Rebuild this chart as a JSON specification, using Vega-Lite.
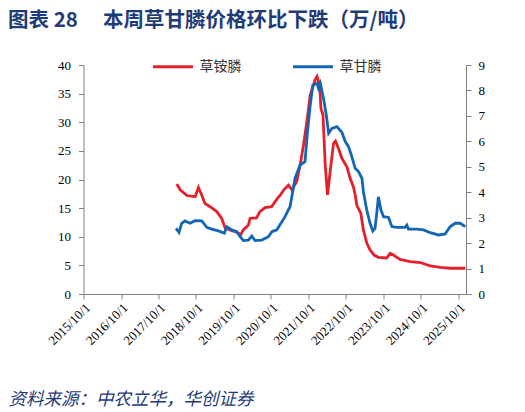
{
  "$schema": "https://vega.github.io/schema/vega-lite/v6.json",
  "width": 382.5,
  "height": 229,
  "autosize": "none",
  "padding": {"left": 83.5, "top": 65, "right": 59, "bottom": 118},
  "background": "white",
  "config": {
    "view": {"stroke": null},
    "axis": {
      "grid": false,
      "domainColor": "#808080",
      "tickColor": "#808080",
      "tickSize": 5,
      "labelFont": "Liberation Serif",
      "labelFontSize": 13,
      "labelColor": "#000000"
    },
    "legend": {
      "orient": "none",
      "legendX": 68,
      "legendY": -20,
      "direction": "horizontal",
      "symbolType": "stroke",
      "symbolSize": 1600,
      "symbolStrokeWidth": 3,
      "labelFont": "Noto Sans CJK SC",
      "labelFontSize": 14,
      "labelColor": "#333333",
      "labelOffset": 5,
      "columnPadding": 45,
      "padding": 0
    }
  },
  "title": {
    "text": "图表\u00a028\u3000\u00a0本周草甘膦价格环比下跌（万/吨）",
    "anchor": "start",
    "frame": "group",
    "dx": -75.5,
    "offset": 14,
    "color": "#1F3C78",
    "font": "Noto Sans CJK SC",
    "fontSize": 20.5,
    "fontWeight": "bold"
  },
  "data": {
    "values": [
      {"date": "2018/03/28", "series": "草铵膦", "value": 19.2},
      {"date": "2018/04/30", "series": "草铵膦", "value": 18.2},
      {"date": "2018/07/05", "series": "草铵膦", "value": 17.2},
      {"date": "2018/09/23", "series": "草铵膦", "value": 17.0},
      {"date": "2018/10/25", "series": "草铵膦", "value": 18.6},
      {"date": "2018/11/26", "series": "草铵膦", "value": 17.3},
      {"date": "2018/12/28", "series": "草铵膦", "value": 15.8},
      {"date": "2019/02/16", "series": "草铵膦", "value": 15.25},
      {"date": "2019/04/22", "series": "草铵膦", "value": 14.4},
      {"date": "2019/06/09", "series": "草铵膦", "value": 13.2},
      {"date": "2019/07/13", "series": "草铵膦", "value": 11.5},
      {"date": "2019/08/27", "series": "草铵膦", "value": 11.2},
      {"date": "2019/10/31", "series": "草铵膦", "value": 10.8},
      {"date": "2019/12/14", "series": "草铵膦", "value": 10.4},
      {"date": "2020/01/05", "series": "草铵膦", "value": 11.2},
      {"date": "2020/02/23", "series": "草铵膦", "value": 12.0},
      {"date": "2020/03/12", "series": "草铵膦", "value": 13.2},
      {"date": "2020/05/13", "series": "草铵膦", "value": 13.3},
      {"date": "2020/06/15", "series": "草铵膦", "value": 14.4},
      {"date": "2020/08/05", "series": "草铵膦", "value": 15.1},
      {"date": "2020/10/07", "series": "草铵膦", "value": 15.25},
      {"date": "2020/12/03", "series": "草铵膦", "value": 16.7},
      {"date": "2021/01/01", "series": "草铵膦", "value": 17.3},
      {"date": "2021/02/03", "series": "草铵膦", "value": 18.2},
      {"date": "2021/03/20", "series": "草铵膦", "value": 19.0},
      {"date": "2021/04/22", "series": "草铵膦", "value": 18.2},
      {"date": "2021/06/08", "series": "草铵膦", "value": 19.6},
      {"date": "2021/07/12", "series": "草铵膦", "value": 22.5},
      {"date": "2021/08/14", "series": "草铵膦", "value": 26.0},
      {"date": "2021/09/16", "series": "草铵膦", "value": 30.1},
      {"date": "2021/10/19", "series": "草铵膦", "value": 34.8},
      {"date": "2021/12/05", "series": "草铵膦", "value": 37.4},
      {"date": "2021/12/24", "series": "草铵膦", "value": 38.0},
      {"date": "2022/01/19", "series": "草铵膦", "value": 36.5},
      {"date": "2022/01/31", "series": "草铵膦", "value": 32.4},
      {"date": "2022/02/20", "series": "草铵膦", "value": 31.3},
      {"date": "2022/03/14", "series": "草铵膦", "value": 22.5},
      {"date": "2022/04/05", "series": "草铵膦", "value": 17.3},
      {"date": "2022/05/01", "series": "草铵膦", "value": 21.4},
      {"date": "2022/06/03", "series": "草铵膦", "value": 26.3},
      {"date": "2022/06/22", "series": "草铵膦", "value": 26.7},
      {"date": "2022/07/21", "series": "草铵膦", "value": 25.4},
      {"date": "2022/08/23", "series": "草铵膦", "value": 23.7},
      {"date": "2022/10/11", "series": "草铵膦", "value": 22.2},
      {"date": "2022/11/12", "series": "草铵膦", "value": 20.2},
      {"date": "2022/12/14", "series": "草铵膦", "value": 18.7},
      {"date": "2022/12/31", "series": "草铵膦", "value": 17.3},
      {"date": "2023/01/16", "series": "草铵膦", "value": 15.5},
      {"date": "2023/02/24", "series": "草铵膦", "value": 14.1},
      {"date": "2023/03/21", "series": "草铵膦", "value": 11.2},
      {"date": "2023/04/23", "series": "草铵膦", "value": 8.9},
      {"date": "2023/05/25", "series": "草铵膦", "value": 7.7},
      {"date": "2023/07/03", "series": "草铵膦", "value": 6.8},
      {"date": "2023/08/14", "series": "草铵膦", "value": 6.4},
      {"date": "2023/11/04", "series": "草铵膦", "value": 6.3},
      {"date": "2023/12/06", "series": "草铵膦", "value": 7.1},
      {"date": "2024/01/07", "series": "草铵膦", "value": 6.8},
      {"date": "2024/03/12", "series": "草铵膦", "value": 6.05},
      {"date": "2024/06/18", "series": "草铵膦", "value": 5.65},
      {"date": "2024/09/25", "series": "草铵膦", "value": 5.5},
      {"date": "2024/11/12", "series": "草铵膦", "value": 5.2},
      {"date": "2025/01/01", "series": "草铵膦", "value": 4.9},
      {"date": "2025/04/08", "series": "草铵膦", "value": 4.65},
      {"date": "2025/07/14", "series": "草铵膦", "value": 4.5},
      {"date": "2025/12/08", "series": "草铵膦", "value": 4.5},
      {"date": "2018/03/21", "series": "草甘膦", "value": 2.58},
      {"date": "2018/04/19", "series": "草甘膦", "value": 2.42},
      {"date": "2018/05/15", "series": "草甘膦", "value": 2.78},
      {"date": "2018/06/16", "series": "草甘膦", "value": 2.87},
      {"date": "2018/08/04", "series": "草甘膦", "value": 2.78},
      {"date": "2018/09/22", "series": "草甘膦", "value": 2.88},
      {"date": "2018/11/27", "series": "草甘膦", "value": 2.87},
      {"date": "2019/01/15", "series": "草甘膦", "value": 2.62},
      {"date": "2019/03/04", "series": "草甘膦", "value": 2.55},
      {"date": "2019/05/08", "series": "草甘膦", "value": 2.48},
      {"date": "2019/07/05", "series": "草甘膦", "value": 2.39},
      {"date": "2019/07/28", "series": "草甘膦", "value": 2.65},
      {"date": "2019/09/15", "series": "草甘膦", "value": 2.52},
      {"date": "2019/11/03", "series": "草甘膦", "value": 2.45},
      {"date": "2019/12/06", "series": "草甘膦", "value": 2.25},
      {"date": "2020/01/06", "series": "草甘膦", "value": 2.1},
      {"date": "2020/02/24", "series": "草甘膦", "value": 2.12},
      {"date": "2020/03/28", "series": "草甘膦", "value": 2.28},
      {"date": "2020/04/29", "series": "草甘膦", "value": 2.1},
      {"date": "2020/07/03", "series": "草甘膦", "value": 2.12},
      {"date": "2020/09/06", "series": "草甘膦", "value": 2.25},
      {"date": "2020/10/10", "series": "草甘膦", "value": 2.45},
      {"date": "2020/11/27", "series": "草甘膦", "value": 2.52},
      {"date": "2020/12/31", "series": "草甘膦", "value": 2.74},
      {"date": "2021/02/10", "series": "草甘膦", "value": 3.0},
      {"date": "2021/04/05", "series": "草甘膦", "value": 3.43},
      {"date": "2021/05/24", "series": "草甘膦", "value": 4.55},
      {"date": "2021/07/12", "series": "草甘膦", "value": 5.07},
      {"date": "2021/08/29", "series": "草甘膦", "value": 5.2},
      {"date": "2021/09/22", "series": "草甘膦", "value": 6.38},
      {"date": "2021/10/19", "series": "草甘膦", "value": 7.43},
      {"date": "2021/11/13", "series": "草甘膦", "value": 8.2},
      {"date": "2021/12/24", "series": "草甘膦", "value": 8.28},
      {"date": "2022/01/07", "series": "草甘膦", "value": 8.09},
      {"date": "2022/01/25", "series": "草甘膦", "value": 8.28},
      {"date": "2022/02/25", "series": "草甘膦", "value": 7.69},
      {"date": "2022/03/24", "series": "草甘膦", "value": 7.04},
      {"date": "2022/04/16", "series": "草甘膦", "value": 6.32},
      {"date": "2022/05/18", "series": "草甘膦", "value": 6.51},
      {"date": "2022/07/06", "series": "草甘膦", "value": 6.58},
      {"date": "2022/08/24", "series": "草甘膦", "value": 6.35},
      {"date": "2022/09/25", "series": "草甘膦", "value": 5.99},
      {"date": "2022/10/27", "series": "草甘膦", "value": 5.79},
      {"date": "2022/11/28", "series": "草甘膦", "value": 5.4},
      {"date": "2022/12/31", "series": "草甘膦", "value": 4.94},
      {"date": "2023/02/01", "series": "草甘膦", "value": 4.81},
      {"date": "2023/03/07", "series": "草甘膦", "value": 4.55},
      {"date": "2023/03/21", "series": "草甘膦", "value": 4.02},
      {"date": "2023/04/23", "series": "草甘膦", "value": 3.3},
      {"date": "2023/05/25", "series": "草甘膦", "value": 2.78},
      {"date": "2023/06/21", "series": "草甘膦", "value": 2.48},
      {"date": "2023/07/12", "series": "草甘膦", "value": 2.58},
      {"date": "2023/07/29", "series": "草甘膦", "value": 3.17},
      {"date": "2023/08/14", "series": "草甘膦", "value": 3.82},
      {"date": "2023/09/08", "series": "草甘膦", "value": 3.3},
      {"date": "2023/10/03", "series": "草甘膦", "value": 3.04},
      {"date": "2023/11/21", "series": "草甘膦", "value": 3.01},
      {"date": "2023/12/23", "series": "草甘膦", "value": 2.65},
      {"date": "2024/02/10", "series": "草甘膦", "value": 2.62},
      {"date": "2024/05/01", "series": "草甘膦", "value": 2.62},
      {"date": "2024/05/17", "series": "草甘膦", "value": 2.71},
      {"date": "2024/06/02", "series": "草甘膦", "value": 2.55},
      {"date": "2024/08/22", "series": "草甘膦", "value": 2.55},
      {"date": "2024/10/27", "series": "草甘膦", "value": 2.52},
      {"date": "2025/01/01", "series": "草甘膦", "value": 2.41},
      {"date": "2025/03/21", "series": "草甘膦", "value": 2.32},
      {"date": "2025/05/26", "series": "草甘膦", "value": 2.36},
      {"date": "2025/07/14", "series": "草甘膦", "value": 2.65},
      {"date": "2025/09/01", "series": "草甘膦", "value": 2.78},
      {"date": "2025/10/19", "series": "草甘膦", "value": 2.78},
      {"date": "2025/12/08", "series": "草甘膦", "value": 2.65}
    ]
  },
  "encoding": {
    "x": {
      "field": "date",
      "type": "temporal",
      "scale": {
        "domain": [
          {"year": 2015, "month": 10, "date": 1},
          {"year": 2025, "month": 12, "date": 15}
        ]
      },
      "axis": {
        "values": [
          {"year": 2015, "month": 10, "date": 1},
          {"year": 2016, "month": 10, "date": 1},
          {"year": 2017, "month": 10, "date": 1},
          {"year": 2018, "month": 10, "date": 1},
          {"year": 2019, "month": 10, "date": 1},
          {"year": 2020, "month": 10, "date": 1},
          {"year": 2021, "month": 10, "date": 1},
          {"year": 2022, "month": 10, "date": 1},
          {"year": 2023, "month": 10, "date": 1},
          {"year": 2024, "month": 10, "date": 1},
          {"year": 2025, "month": 10, "date": 1}
        ],
        "format": "%Y/%m/%-d",
        "labelAngle": -45,
        "labelOverlap": false,
        "labelFlush": false,
        "title": "资料来源：中农立华，华创证券",
        "titleX": -75.5,
        "titleY": 110,
        "titleAnchor": "start",
        "titleAlign": "left",
        "titleBaseline": "alphabetic",
        "titleFont": "Noto Sans CJK SC",
        "titleFontSize": 17.5,
        "titleFontStyle": "italic",
        "titleFontWeight": "normal",
        "titleColor": "#1F3C78"
      }
    }
  },
  "layer": [
    {
      "transform": [{"filter": "datum.series === '草铵膦'"}],
      "mark": {"type": "line", "strokeWidth": 2.8},
      "encoding": {
        "y": {
          "field": "value",
          "type": "quantitative",
          "scale": {"domain": [0, 40], "nice": false},
          "axis": {"values": [0, 5, 10, 15, 20, 25, 30, 35, 40], "title": null, "labelPadding": 8}
        },
        "color": {
          "field": "series",
          "type": "nominal",
          "scale": {"domain": ["草铵膦", "草甘膦"], "range": ["#E6202A", "#1266B5"]},
          "legend": {"title": null}
        }
      }
    },
    {
      "transform": [{"filter": "datum.series === '草甘膦'"}],
      "mark": {"type": "line", "strokeWidth": 2.8},
      "encoding": {
        "y": {
          "field": "value",
          "type": "quantitative",
          "scale": {"domain": [0, 9], "nice": false},
          "axis": {"orient": "right", "values": [0, 1, 2, 3, 4, 5, 6, 7, 8, 9], "title": null, "labelPadding": 7}
        },
        "color": {"field": "series", "type": "nominal"}
      }
    }
  ],
  "resolve": {"scale": {"y": "independent"}}
}
